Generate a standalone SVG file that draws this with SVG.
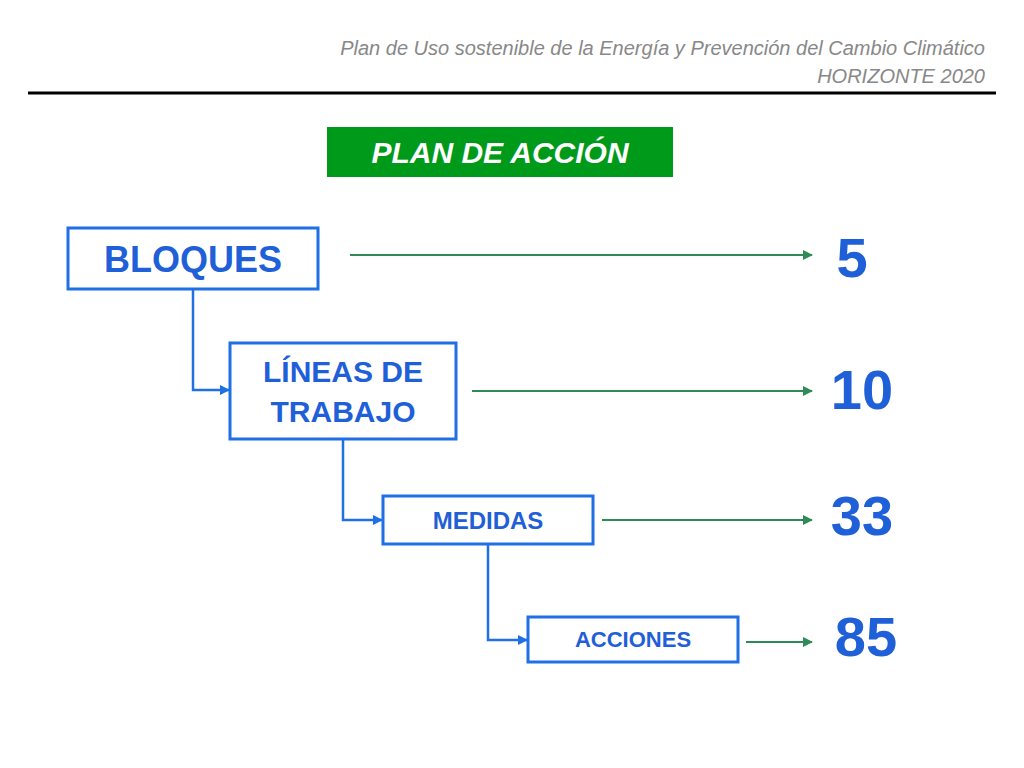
<svg xmlns="http://www.w3.org/2000/svg" width="1024" height="768" viewBox="0 0 1024 768">
<defs>
<style>
.box{fill:#fff;stroke:#1f6fe5;stroke-width:3}
.bt{fill:#1f5fd8;font-family:"Liberation Sans",Arial,sans-serif;font-weight:bold;text-anchor:middle}
.num{fill:#1f5fd8;font-family:"Liberation Sans",Arial,sans-serif;font-weight:bold;font-size:56px;text-anchor:middle}
.hd{fill:#888;font-family:"Liberation Sans",Arial,sans-serif;font-style:italic;font-size:20px;text-anchor:end}
.bl{fill:none;stroke:#1f6fe5;stroke-width:2.5}
.gr{fill:none;stroke:#2e8b57;stroke-width:2}
</style>
<marker id="ab" viewBox="0 0 10 10" refX="9" refY="5" markerWidth="4" markerHeight="4" orient="auto"><path d="M0,0L10,5L0,10z" fill="#1f6fe5"/></marker>
<marker id="ag" viewBox="0 0 10 10" refX="9" refY="5" markerWidth="5" markerHeight="5" orient="auto"><path d="M0,0L10,5L0,10z" fill="#2e8b57"/></marker>
</defs>
<g id="header">
<text class="hd" x="985" y="55">Plan de Uso sostenible de la Energía y Prevención del Cambio Climático</text>
<text class="hd" x="985" y="83">HORIZONTE 2020</text>
<line x1="28" y1="93" x2="996" y2="93" stroke="#000" stroke-width="3"/>
</g>
<g id="title">
<rect x="327" y="127" width="346" height="50" fill="#009a1a"/>
<text x="500" y="163" fill="#fff" font-family="Liberation Sans,Arial,sans-serif" font-weight="bold" font-style="italic" font-size="30" text-anchor="middle">PLAN DE ACCIÓN</text>
</g>
<g id="connectors">
<path class="bl" d="M193,289V390H229" marker-end="url(#ab)"/>
<path class="bl" d="M343,439V520H382" marker-end="url(#ab)"/>
<path class="bl" d="M488,544V640H527" marker-end="url(#ab)"/>
<line class="gr" x1="350" y1="255" x2="812" y2="255" marker-end="url(#ag)"/>
<line class="gr" x1="472" y1="391" x2="812" y2="391" marker-end="url(#ag)"/>
<line class="gr" x1="602" y1="520" x2="812" y2="520" marker-end="url(#ag)"/>
<line class="gr" x1="746" y1="642" x2="812" y2="642" marker-end="url(#ag)"/>
</g>
<g id="bloques"><rect class="box" x="68" y="228" width="250" height="61"/><text class="bt" x="193" y="272" font-size="36">BLOQUES</text></g>
<g id="lineas"><rect class="box" x="230" y="343" width="226" height="96"/><text class="bt" x="343" y="382" font-size="30">LÍNEAS DE</text><text class="bt" x="343" y="422" font-size="30">TRABAJO</text></g>
<g id="medidas"><rect class="box" x="383" y="496" width="210" height="48"/><text class="bt" x="488" y="529" font-size="24">MEDIDAS</text></g>
<g id="acciones"><rect class="box" x="528" y="617" width="210" height="45"/><text class="bt" x="633" y="647" font-size="22">ACCIONES</text></g>
<g id="numbers">
<text class="num" x="852" y="277">5</text>
<text class="num" x="862" y="409">10</text>
<text class="num" x="862" y="535">33</text>
<text class="num" x="866" y="656">85</text>
</g>
</svg>
